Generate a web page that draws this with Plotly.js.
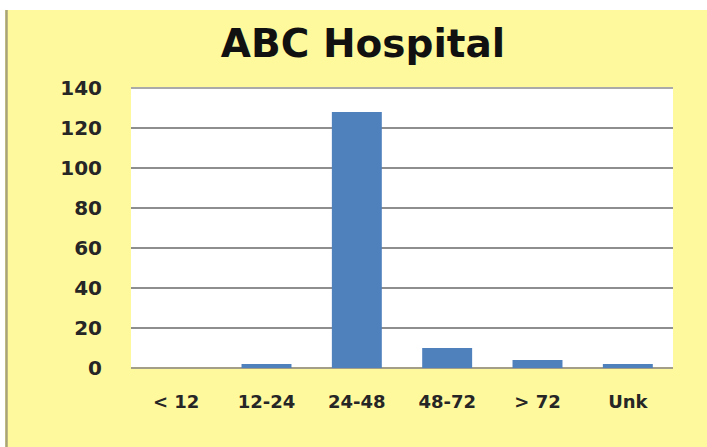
<!DOCTYPE html>
<html>
<head>
<meta charset="utf-8">
<script src="https://cdn.plot.ly/plotly-3.0.1.min.js"></script>
<style>
  html, body { margin: 0; padding: 0; background: #ffffff; }
  #chart { width: 707px; height: 447px; }
</style>
</head>
<body>
<div id="chart"></div>
<script>
const categories = ['< 12', '12-24', '24-48', '48-72', '> 72', 'Unk'];
const counts = [0, 2, 128, 10, 4, 2];
const yTickValues = [0, 20, 40, 60, 80, 100, 120, 140];
const chartTitle = 'ABC Hospital';

const W = 707, H = 447;
const M = { l: 131, r: 34, t: 87, b: 79 };
const pw = W - M.l - M.r, ph = H - M.t - M.b;
const px = x => (x - M.l) / pw;
const py = y => (H - M.b - y) / ph;

const yellow = '#FEF99D';
const gridColor = '#8E8E8E';
const yMax = yTickValues[yTickValues.length - 1];

const trace = {
  type: 'bar',
  x: categories,
  y: counts,
  marker: { color: '#4F81BD', line: { width: 0 } },
  hoverinfo: 'skip'
};

const layout = {
  width: W, height: H,
  margin: M,
  paper_bgcolor: yellow,
  plot_bgcolor: '#ffffff',
  showlegend: false,
  bargap: 0.447,
  title: {
    text: chartTitle,
    font: { family: 'DejaVu Sans', size: 39, color: '#111111', weight: 'bold' },
    x: 363 / W, xanchor: 'center', xref: 'container',
    y: 1 - 43 / H, yanchor: 'middle', yref: 'container'
  },
  xaxis: {
    type: 'category',
    showgrid: false,
    showline: false,
    ticks: '',
    ticklabelstandoff: 21,
    tickfont: { family: 'DejaVu Sans', size: 18, color: '#262626', weight: 'bold' },
    fixedrange: true
  },
  yaxis: {
    range: [0, 140.5],
    tickvals: yTickValues,
    ticktext: yTickValues.map(String),
    showgrid: true,
    gridcolor: gridColor,
    gridwidth: 1.6,
    zeroline: true,
    zerolinecolor: '#A29E88',
    zerolinewidth: 2,
    showline: false,
    ticks: '',
    ticklabelstandoff: 28,
    tickfont: { family: 'DejaVu Sans', size: 20, color: '#262626', weight: 'bold' },
    fixedrange: true
  },
  shapes: [
    { type: 'line', xref: 'paper', yref: 'y', layer: 'below',
      x0: 0, x1: 1, y0: yMax, y1: yMax,
      line: { color: gridColor, width: 1.6 } },
    { type: 'rect', xref: 'paper', yref: 'paper', layer: 'above',
      x0: px(0), x1: px(W), y0: py(10), y1: py(0),
      fillcolor: '#ffffff', line: { width: 0 } },
    { type: 'rect', xref: 'paper', yref: 'paper', layer: 'above',
      x0: px(0), x1: px(5), y0: py(H), y1: py(0),
      fillcolor: '#ffffff', line: { width: 0 } },
    { type: 'line', xref: 'paper', yref: 'paper', layer: 'above',
      x0: px(6.5), x1: px(6.5), y0: py(H), y1: py(10),
      line: { color: '#A8A27A', width: 2.5 } }
  ]
};

Plotly.newPlot('chart', [trace], layout, { displayModeBar: false, staticPlot: true });
</script>
</body>
</html>
